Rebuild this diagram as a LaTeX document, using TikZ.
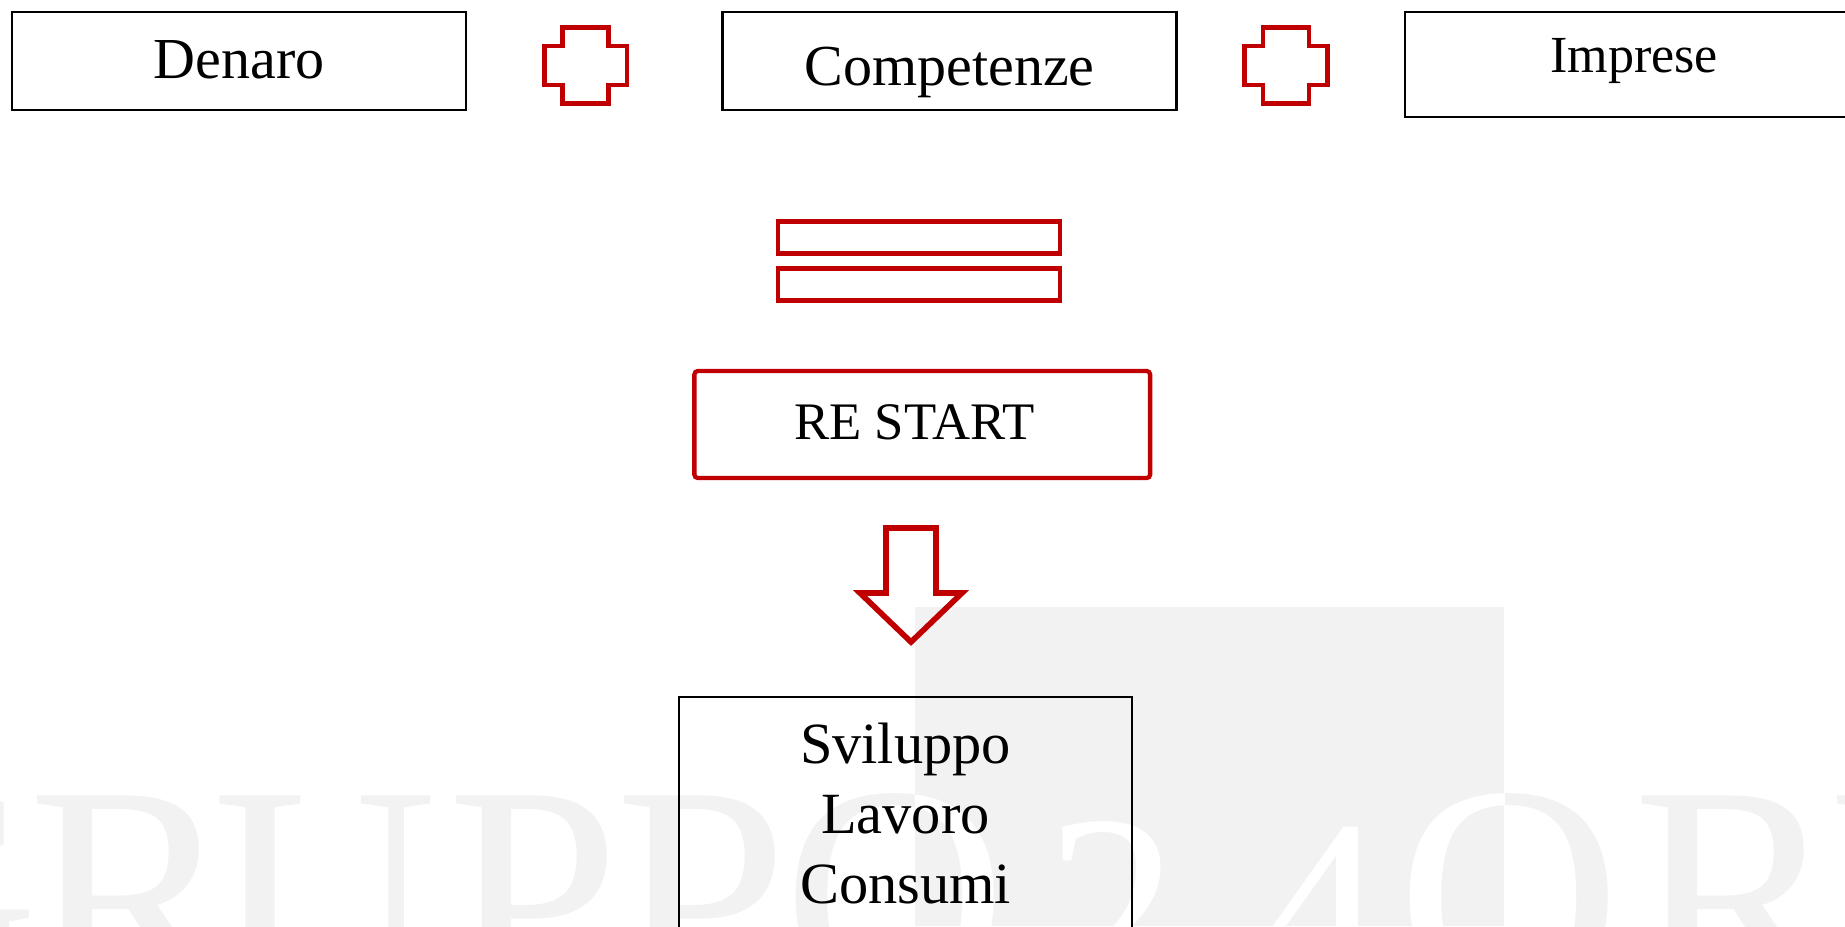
\documentclass[tikz,border=0pt]{standalone}
\usepackage{fontspec}
\setmainfont{Liberation Serif}
\definecolor{ilred}{HTML}{C00000}
\definecolor{wmgray}{HTML}{F2F2F2}
\tikzset{
	topbox/.style={draw, line width=0.7pt, minimum width=4.54cm, minimum height=0.98cm, inner sep=0pt, text depth=0pt, font=\fontsize{16.5}{18}\selectfont},
	redline/.style={draw=ilred, line width=1.4pt, line join=miter},
	wmletter/.style={anchor=base west, inner sep=0pt},
}
\begin{document}
	\begin{tikzpicture}[x=0.01cm, y=-0.01cm]
		\useasboundingbox (0,0) rectangle (1845,926);
		\clip (0,0) rectangle (1845,926);
		% watermark
		\fill [wmgray] (915,607) rectangle (1504,926);
		\foreach \ch/\px/\sz [count=\i] in {G/-185/88, R/28/88, U/213/88, P/447/88, P/615/88, O/783/88, 2/1045/76, 4/1255/74, O/1397/88, R/1633/88, E/1828/88}
			\node[wmletter, text=wmgray, font=\fontsize{\sz}{\sz}\selectfont] (wm\i) at (\px,998) {\ch};
		\begin{scope}
			\clip (915,607) rectangle (1504,926);
			\foreach \ch/\px/\sz [count=\i] in {O/783/88, 2/1045/76, 4/1255/74, O/1397/88}
				\node[wmletter, text=white, font=\fontsize{\sz}{\sz}\selectfont] (wmw\i) at (\px,998) {\ch};
		\end{scope}
		% top row
		\node[topbox, text height=9.85pt] (denaro) at (239,61) {Denaro};
		\node[topbox, text height=13.66pt] (competenze) at (949.5,61) {Competenze};
		\node[topbox, minimum width=4.58cm, minimum height=1.05cm, text height=4.8pt, font=\fontsize{14.8}{16}\selectfont] (imprese) at (1634,64.5) {Imprese};
		\foreach \cx in {585.75,1286}
			\draw [redline, shift={(\cx,65.5)}] (-23,-38) -- (23,-38) -- (23,-19.5) -- (41.25,-19.5) -- (41.25,19.5) -- (23,19.5) -- (23,38) -- (-23,38) -- (-23,19.5) -- (-41.25,19.5) -- (-41.25,-19.5) -- (-23,-19.5) -- cycle;
		% equals
		\draw [redline, line width=1.35pt] (778,221.7) rectangle (1060,253.7);
		\draw [redline, line width=1.35pt] (778,268.7) rectangle (1060,300.7);
		% restart
		\node[draw=ilred, line width=1.22pt, rounded corners=1pt, minimum width=4.555cm, minimum height=1.07cm, inner sep=0pt, text height=8.8pt, text depth=0pt, font=\fontsize{15}{17}\selectfont] (restart) at (922.25,424.5) {RE START\kern4.5pt};
		\draw [redline, line width=1.6pt] (886,528) -- (936,528) -- (936,593) -- (962,593) -- (911,642) -- (860,593) -- (886,593) -- cycle;
		% results
		\node[draw, line width=0.6pt, anchor=north, minimum width=4.53cm, minimum height=2.33cm, inner sep=0pt, align=center, font=\fontsize{16.6}{19.9}\selectfont] (risultati) at (905.5,695.5) {Sviluppo\\Lavoro\\Consumi};
	\end{tikzpicture}
\end{document}
